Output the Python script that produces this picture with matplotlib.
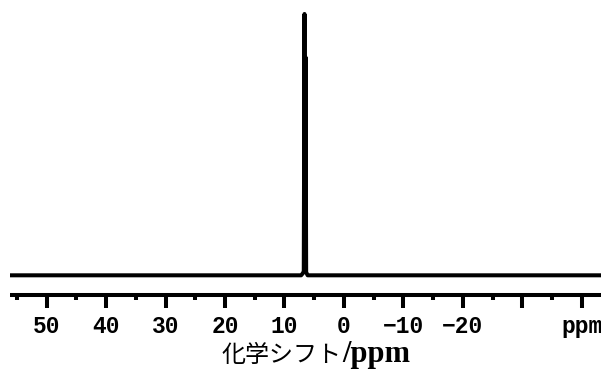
import matplotlib
matplotlib.use("Agg")
import matplotlib.pyplot as plt
from matplotlib.ticker import FixedLocator

# Spectrum trace: chemical shift (ppm) and relative intensity
shift_ppm = [56.17, 7.2, 6.9, 6.75, 6.63, 6.55, 6.46, 6.35, 6.1, -43.25]
intensity = [0.0, 0.0, 0.008, 0.015, 1.0, 0.02, 0.835, 0.012, 0.0, 0.0]

major_ticks = [50, 40, 30, 20, 10, 0, -10, -20, -30, -40]
major_labels = ["50", "40", "30", "20", "10", "0", "\u221210", "\u221220", "", "ppm"]
minor_ticks = [55, 45, 35, 25, 15, 5, -5, -15, -25, -35]

x_range = (56.17, -43.25)
y_range = (-0.0765, 1.0535)

fig = plt.figure(figsize=(6.01, 3.69), dpi=100)
ax = fig.add_axes([10 / 601, 73.7 / 369, 591 / 601, 295.3 / 369])

ax.plot(shift_ppm, intensity, color="black", lw=2.9,
        solid_joinstyle="round", solid_capstyle="round")

ax.set_xlim(*x_range)
ax.set_ylim(*y_range)

for side in ("left", "right", "top"):
    ax.spines[side].set_visible(False)
ax.spines["bottom"].set_linewidth(2.9)
ax.spines["bottom"].set_capstyle("butt")
ax.set_yticks([])

ax.xaxis.set_major_locator(FixedLocator(major_ticks))
ax.xaxis.set_minor_locator(FixedLocator(minor_ticks))
ax.set_xticklabels(major_labels, family="Liberation Mono",
                   fontweight="bold", fontsize=16.5)
ax.tick_params(axis="x", which="major", length=9, width=2.9, pad=5,
               direction="out")
ax.tick_params(axis="x", which="minor", length=3.5, width=2.9,
               direction="out")

# Axis title: Japanese part followed directly by the unit part
W, H = 601, 369
renderer = fig.canvas.get_renderer()
title_jp = fig.text(221 / W, 1 - 362 / H, "化学シフト", family="Noto Sans CJK JP",
                    fontsize=10, ha="left", va="baseline")
w10 = title_jp.get_window_extent(renderer).width
title_jp.set_fontsize(10 * 120 / w10)
ext = title_jp.get_window_extent(renderer)
fig.text((ext.x1 + 1) / W, 1 - 362 / H, "/ppm", family="Liberation Serif",
         fontweight="bold", fontsize=22, ha="left", va="baseline")

fig.savefig("out.png", dpi=100)
